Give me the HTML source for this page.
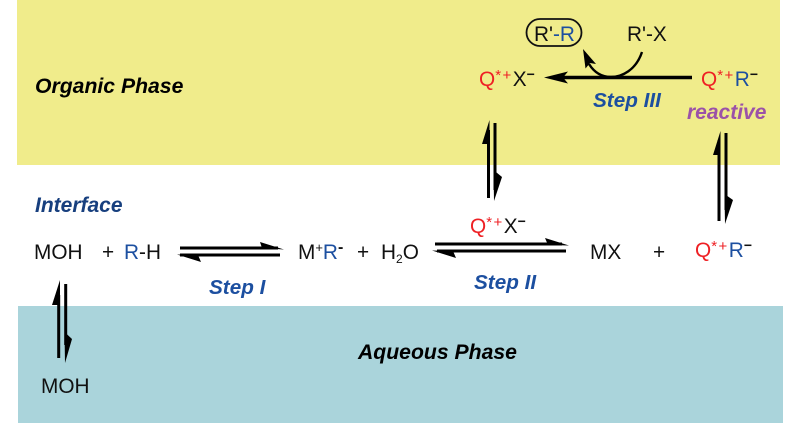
<!DOCTYPE html>
<html><head><meta charset="utf-8"><style>
html,body{margin:0;padding:0;background:#fff}
svg{display:block}
text{font-family:"Liberation Sans",sans-serif;font-size:20.8px;fill:#111}
.r{fill:#ee2024}.b{fill:#1c4fa0}
.st{font-size:15px;letter-spacing:1.5px}
.s{font-size:20.7px;font-weight:bold;font-style:italic;fill:#1c4fa0}
.p{font-size:21.2px;font-weight:bold;font-style:italic;fill:#000}
</style></head><body>
<svg width="800" height="423" viewBox="0 0 800 423" xmlns="http://www.w3.org/2000/svg">
<rect x="17" y="0" width="763" height="165" fill="#f0ec8b"/>
<rect x="18" y="306" width="765" height="117" fill="#aad4db"/>

<text class="p" x="35" y="93">Organic Phase</text>
<text class="s" x="35" y="212" style="fill:#173f7e;font-size:21px">Interface</text>
<text class="p" x="358" y="359">Aqueous Phase</text>
<text class="s" x="593" y="107">Step III</text>
<text class="s" x="687" y="119" style="fill:#9b52a8;font-size:21px">reactive</text>
<text class="s" x="209" y="294">Step I</text>
<text class="s" x="474" y="289">Step II</text>

<!-- top -->
<rect x="526.500" y="19" width="55" height="27" rx="13.500" fill="none" stroke="#111" stroke-width="1.800"/>
<text x="534" y="41">R'<tspan class="b">-R</tspan></text>
<text x="627" y="41">R'-X</text>
<text x="479" y="86" class="r">Q<tspan class="st" dy="-6">*+</tspan><tspan dy="6" style="fill:#111">X</tspan><tspan dy="-7" font-size="14" font-weight="bold" style="fill:#111">−</tspan></text>
<text x="701" y="86" class="r">Q<tspan class="st" dy="-6">*+</tspan><tspan dy="6" class="b">R</tspan><tspan dy="-7" font-size="14" font-weight="bold" style="fill:#111">−</tspan></text>
<path d="M692 77.500H560" stroke="#000" stroke-width="3.400" fill="none"/>
<path d="M544 77.500L568 71.500L563 77.500L568 83.500Z" fill="#000"/>
<path d="M642 52C636 70 622 77 611 77C601 77 594 72 589 64" stroke="#000" stroke-width="2.400" fill="none"/>
<path d="M583 49L596 64L590 63L585.500 68.500Z" fill="#000"/>

<!-- vertical eq left -->
<path d="M488.500 130V198M495 123V190" stroke="#000" stroke-width="3" fill="none"/>
<path d="M489.500 120V144L482 144Z" fill="#000"/>
<path d="M494 201L493.500 170L502 177Z" fill="#000"/>

<!-- vertical eq right -->
<path d="M719 140V221M726 133V210" stroke="#000" stroke-width="3" fill="none"/>
<path d="M720.500 131V155L713 155Z" fill="#000"/>
<path d="M725 224L724.500 194L733 200Z" fill="#000"/>

<!-- row -->
<text x="34" y="259">MOH</text>
<text x="102" y="259">+</text>
<text x="124" y="259"><tspan class="b">R</tspan>-H</text>
<text x="298" y="259">M<tspan font-size="13" dy="-7">+</tspan><tspan dy="7" class="b">R</tspan><tspan dy="-7" font-size="16" font-weight="bold">-</tspan></text>
<text x="357" y="259">+</text>
<text x="381" y="259">H<tspan font-size="12" dy="4">2</tspan><tspan dy="-4">O</tspan></text>
<text x="590" y="259">MX</text>
<text x="653" y="259">+</text>
<text x="695" y="257" class="r">Q<tspan class="st" dy="-6">*+</tspan><tspan dy="6" class="b">R</tspan><tspan dy="-7" font-size="14" font-weight="bold" style="fill:#111">−</tspan></text>
<text x="470" y="233" class="r">Q<tspan class="st" dy="-6">*+</tspan><tspan dy="6" style="fill:#111">X</tspan><tspan dy="-7" font-size="14" font-weight="bold" style="fill:#111">−</tspan></text>

<!-- Step I -->
<path d="M180 248H278M180 255H280" stroke="#000" stroke-width="3" fill="none"/>
<path d="M284 249.500L260 242L262 248Z" fill="#000"/>
<path d="M177 254.500L201 262L198 255Z" fill="#000"/>
<!-- Step II -->
<path d="M435 244H562M437 251H566" stroke="#000" stroke-width="3" fill="none"/>
<path d="M569 245.500L545 238L548 245Z" fill="#000"/>
<path d="M432 250.500L456 258L453 251Z" fill="#000"/>

<!-- MOH vertical -->
<path d="M58.700 295V358M65.700 284V345" stroke="#000" stroke-width="3" fill="none"/>
<path d="M60 280V305L52 305Z" fill="#000"/>
<path d="M65 363L64.500 332L72 339Z" fill="#000"/>
<text x="41" y="393">MOH</text>
</svg>
</body></html>
